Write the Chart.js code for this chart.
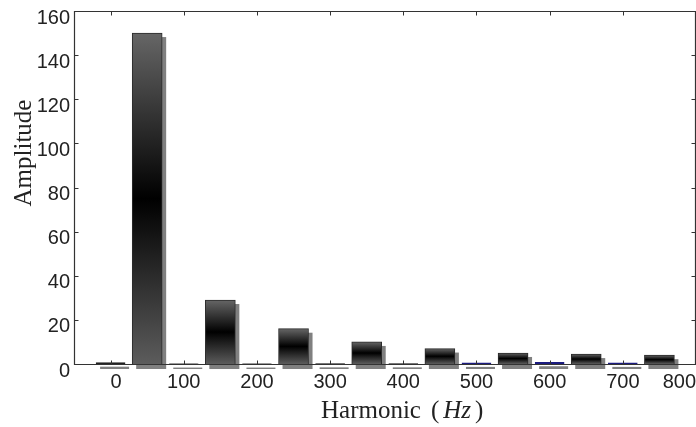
<!DOCTYPE html>
<html>
<head>
<meta charset="utf-8">
<script src="https://cdn.jsdelivr.net/npm/chart.js@4/dist/chart.umd.min.js"></script>
<style>
  html, body { margin: 0; padding: 0; background: #fff; }
  #wrap { width: 696px; height: 427px; position: relative; }
</style>
</head>
<body>
<div id="wrap"><canvas id="c"></canvas></div>
<script>
// Harmonic spectrum: odd harmonic amplitudes and the small components in between
const harmonicFreqs = [50, 150, 250, 350, 450, 550, 650, 750];
const harmonicAmps  = [150, 29, 16, 10, 7, 5, 4.5, 4];
const smallFreqs    = [0, 100, 200, 300, 400, 500, 600, 700];
const smallAmps     = [0.6, 0.2, 0.2, 0.3, 0.3, 0.5, 0.8, 0.5];
const smallColors   = ['#222222', '#777777', '#777777', '#777777', '#777777', '#1c1c80', '#1c1c80', '#1c1c80'];
const xTicks = [0, 100, 200, 300, 400, 500, 600, 700, 800];
const yTicks = [0, 20, 40, 60, 80, 100, 120, 140, 160];

const AXIS = '#333333';
const SANS = "'Liberation Sans', Arial, sans-serif";
const SERIF = "'Liberation Serif', 'Times New Roman', serif";

// vertical grey-black-grey shading for each bar
function barShade(ctx) {
  const chart = ctx.chart;
  if (!chart.chartArea || ctx.type !== 'data') return '#555555';
  const y = chart.scales.y;
  const top = y.getPixelForValue(ctx.parsed.y);
  const bot = y.getPixelForValue(0);
  if (!isFinite(top) || !isFinite(bot) || bot - top < 1) return '#444444';
  const g = chart.ctx.createLinearGradient(0, top, 0, bot);
  g.addColorStop(0, '#666666');
  g.addColorStop(0.5, '#000000');
  g.addColorStop(1, '#5c5c5c');
  return g;
}

// grey drop shadow offset down-right behind every bar
const barShadow = {
  id: 'barShadow',
  beforeDatasetDraw(chart, args) {
    const c = chart.ctx;
    const meta = args.meta;
    c.save();
    c.fillStyle = '#808080';
    meta.data.forEach(el => {
      const p = el.getProps(['x', 'y', 'base', 'width'], true);
      const h = Math.max(p.base - p.y, 0);
      c.fillRect(p.x - p.width / 2 + 4, p.y + 4, p.width, h + 1);
    });
    c.restore();
  }
};

// box frame with inward tick marks and axis titles
const frame = {
  id: 'frame',
  afterDraw(chart) {
    const c = chart.ctx;
    const a = chart.chartArea;
    const xs = chart.scales.x, ys = chart.scales.y;
    const L = Math.round(a.left) + 0.5, R = Math.round(a.right) - 0.5;
    const T = Math.round(a.top) + 0.5, B = Math.round(a.bottom) + 0.5;
    c.save();
    c.strokeStyle = AXIS;
    c.lineWidth = 1.2;
    c.beginPath();
    c.moveTo(L, T); c.lineTo(R, T); c.lineTo(R, B); c.lineTo(L, B); c.closePath();
    c.stroke();
    c.lineWidth = 1;
    c.beginPath();
    xTicks.forEach(v => {
      const px = Math.round(xs.getPixelForValue(v)) + 0.5;
      c.moveTo(px, B); c.lineTo(px, B - 4);
      c.moveTo(px, T); c.lineTo(px, T + 4);
    });
    yTicks.forEach(v => {
      const py = Math.round(ys.getPixelForValue(v)) + 0.5;
      c.moveTo(L, py); c.lineTo(L + 4, py);
      c.moveTo(R, py); c.lineTo(R - 4, py);
    });
    c.stroke();

    // x title: Harmonic ( Hz )
    c.fillStyle = '#222222';
    c.textBaseline = 'alphabetic';
    c.textAlign = 'left';
    const cx = (a.left + a.right) / 2;
    const by = a.bottom + 54;
    let x0 = cx - 64;
    c.font = '25px ' + SERIF;
    c.fillText('Harmonic', x0, by);
    x0 += c.measureText('Harmonic').width + 10;
    c.fillText('(', x0, by);
    x0 += c.measureText('(').width + 4;
    c.font = 'italic 25px ' + SERIF;
    c.fillText('Hz', x0, by);
    x0 += c.measureText('Hz').width + 4;
    c.font = '25px ' + SERIF;
    c.fillText(')', x0, by);

    // y title
    c.save();
    c.translate(31, a.top + 142);
    c.rotate(-Math.PI / 2);
    c.textAlign = 'center';
    c.font = '25px ' + SERIF;
    c.fillText('Amplitude', 0, 0);
    c.restore();
    c.restore();
  }
};

new Chart(document.getElementById('c'), {
  type: 'bar',
  data: {
    datasets: [
      {
        label: 'Harmonics',
        data: harmonicFreqs.map((f, i) => ({ x: f, y: harmonicAmps[i] })),
        backgroundColor: barShade,
        borderColor: '#2a2a2a',
        borderWidth: 1,
        barThickness: 30,
        grouped: false,
        clip: false
      },
      {
        label: 'Other components',
        data: smallFreqs.map((f, i) => ({ x: f, y: smallAmps[i] })),
        backgroundColor: smallColors,
        borderColor: smallColors,
        borderWidth: 1,
        barThickness: 29,
        grouped: false,
        clip: false
      }
    ]
  },
  options: {
    responsive: true,
    maintainAspectRatio: false,
    animation: false,
    layout: { padding: { top: 11, right: 0, left: 0, bottom: 0 } },
    plugins: { legend: { display: false }, tooltip: { enabled: false } },
    scales: {
      x: {
        type: 'linear',
        min: -50,
        max: 800,
        offset: false,
        grid: { display: false, drawTicks: false },
        border: { display: false },
        afterBuildTicks(scale) { scale.ticks = xTicks.map(v => ({ value: v })); },
        afterFit(scale) {
          scale.height = 63;
          scale.paddingLeft = 0;
          scale.paddingRight = 0;
        },
        ticks: {
          autoSkip: false,
          maxRotation: 0,
          align: 'inner',
          padding: 6,
          color: '#222222',
          font: { family: SANS, size: 20 }
        }
      },
      y: {
        min: 0,
        max: 160,
        grid: { display: false, drawTicks: false },
        border: { display: false },
        afterBuildTicks(scale) { scale.ticks = yTicks.map(v => ({ value: v })); },
        afterFit(scale) {
          scale.width = 74;
          scale.paddingTop = 0;
          scale.paddingBottom = 0;
        },
        ticks: {
          padding: 4,
          labelOffset: 7,
          color: '#222222',
          font: { family: SANS, size: 20 }
        }
      }
    }
  },
  plugins: [barShadow, frame]
});
</script>
</body>
</html>
